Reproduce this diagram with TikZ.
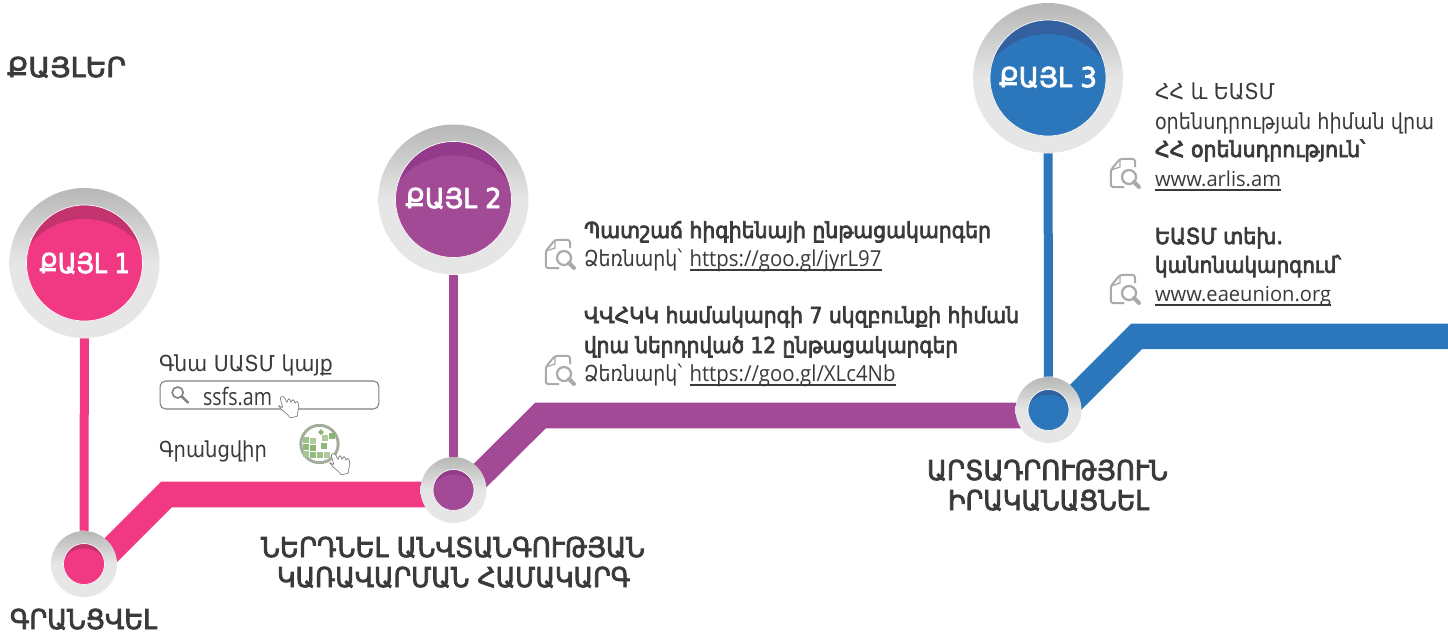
\documentclass[tikz,border=0pt]{standalone}
\usepackage{fontspec}
\usepackage{graphicx}
\setmainfont{DejaVu Sans}
\newfontfamily\latf{Open Sans}
\newfontfamily\headf[FakeBold=3]{DejaVu Sans}
\newfontfamily\semif[FakeBold=3.5]{DejaVu Sans}
\usetikzlibrary{backgrounds}
\definecolor{pinkc}{HTML}{F03883}
\definecolor{pinkd}{HTML}{C5336F}
\definecolor{purc}{HTML}{A34A97}
\definecolor{purd}{HTML}{943A8A}
\definecolor{bluec}{HTML}{2C76BB}
\definecolor{blued}{HTML}{34609F}
\definecolor{ringl}{HTML}{E5E6E5}
\definecolor{ringd}{HTML}{B7B8B6}
\definecolor{inkc}{HTML}{3A3A3C}
\definecolor{icong}{HTML}{A9AAAC}
\pgfdeclareverticalshading{ringshade}{100bp}{color(0bp)=(ringl); color(50bp)=(ringl); color(75bp)=(ringd); color(100bp)=(ringd)}
\newcommand\tw[2]{\resizebox{\dimexpr#1pt*3/4\relax}{\height}{#2}}
\newcommand\ulink[1]{\setbox0\hbox{#1}\rlap{\raisebox{-3pt}{\rule{\wd0}{1pt}}}\box0}
\newcommand\headsz{\headf\fontsize{20.5}{24}\selectfont}
\newcommand\bodysz{\fontsize{16.5}{20}\selectfont}
\newcommand\semisz{\semif\fontsize{16.5}{20}\selectfont}
\newcommand\linksz{\latf\fontsize{16.5}{20}\selectfont}
% disc: name, position, outer radius px, inner radius px, main, dark
\newcommand\stepdisc[6]{%
  \node[circle,inner sep=0pt,minimum size={2*#3*0.75pt},shade,shading=ringshade] (#1) at (#2) {};
  \begin{scope}
    \clip (#1.center) circle ({#4});
    \fill[#6] (#1.center) circle ({#4});
    \fill[#5] ([yshift={-#4*0.75pt*27/58}]#1.center) circle ({#4*71/58});
  \end{scope}
  \draw[white,line width=.5pt] (#1.center) circle ({#4});
}
\newcommand\docicon[1]{%
  \begin{scope}[shift={(#1)}]
    \draw[icong,line width=1.5pt,line join=round,rounded corners=2pt]
      (14,29.2) -- (0.8,29.2) -- (0.8,12) -- (10,0.8) -- (25,0.8) -- (25,9);
    \draw[icong,line width=1pt] (10,0.8) -- (10,9) -- (0.8,12);
    \draw[icong,line width=1.7pt] (19,19) circle (7);
    \draw[icong,line width=3pt,line cap=round] (24,24) -- (29,29);
  \end{scope}}
\newcommand\handicon[1]{%
  \begin{scope}[shift={(#1)}]
    \draw[fill=white,draw=black!55,line width=.45pt,rounded corners=.8pt]
      (0,10) -- (5,13) -- (2,3) -- (4,1) -- (7,3) -- (9,8) -- (10,4) -- (12,4) -- (13,8) -- (14,5) -- (16,5) -- (17,9) -- (18,6) -- (20,7) -- (21,13) -- (19,19) -- (20,21) -- (12,23) -- (10,20) -- (4,15) -- cycle;
  \end{scope}}
\tikzset{
  txt/.style={anchor=base west,inner sep=0pt,outer sep=0pt,text=inkc},
  whitetxt/.style={anchor=base west,inner sep=0pt,outer sep=0pt,text=white},
  band/.style={line width=19.2pt,line join=miter},
  stem/.style={line width=6.75pt},
}
\begin{document}
\begin{tikzpicture}[x=.75pt,y=-.75pt]
\useasboundingbox (0,0) rectangle (1448,633);
\stepdisc{s1}{84.5,263}{75}{58}{pinkc}{pinkd}
\stepdisc{s2}{453.5,199.5}{75}{58}{purc}{purd}
\stepdisc{s3}{1048,78}{75}{58}{bluec}{blued}
\stepdisc{n1}{84,564}{33}{20.5}{pinkc}{pinkd}
\stepdisc{n2}{453.5,490}{33}{20.5}{purc}{purd}
\stepdisc{n3}{1048.5,410}{33}{20.5}{bluec}{blued}
\coordinate (a1) at (96.5,564.5);
\coordinate (c1) at (166.5,494.5);
\coordinate (a2) at (465.5,490);
\coordinate (c2) at (540.5,415.5);
\coordinate (a3) at (1063,410);
\coordinate (c3) at (1136.7,336.3);
\coordinate (e3) at (1448,336.3);
\begin{scope}[on background layer]
  \draw[stem,pinkc] (s1) -- (n1);
  \draw[stem,purc] (s2) -- (n2);
  \draw[stem,bluec] (s3) -- (n3);
  \draw[band,pinkc] (a1) -- (c1) -- (c1 -| n2);
  \draw[band,purc] (a2) -- (c2) -- (c2 -| n3);
  \draw[band,bluec] (a3) -- (c3) -- (e3);
\end{scope}
% step labels
\node[txt] (title) at (7,77) {\tw{119}{\headsz ՔԱՅԼԵՐ}};
\node[whitetxt] (l1) at (39.5,273) {\tw{90.5}{\headsz ՔԱՅԼ 1}};
\node[whitetxt] (l2) at (405.5,208) {\tw{96}{\headsz ՔԱՅԼ 2}};
\node[whitetxt] (l3) at (999,87) {\tw{98}{\headsz ՔԱՅԼ 3}};
% milestone labels
\node[txt] (m1) at (10,629) {\tw{147}{\headsz ԳՐԱՆՑՎԵԼ}};
\node[txt] (m2a) at (261,557) {\tw{384}{\headsz ՆԵՐԴՆԵԼ ԱՆՎՏԱՆԳՈՒԹՅԱՆ}};
\node[txt] (m2b) at (277,587) {\tw{353}{\headsz ԿԱՌԱՎԱՐՄԱՆ ՀԱՄԱԿԱՐԳ}};
\node[txt] (m3a) at (927,480) {\tw{241}{\headsz ԱՐՏԱԴՐՈՒԹՅՈՒՆ}};
\node[txt] (m3b) at (948,510) {\tw{201}{\headsz ԻՐԱԿԱՆԱՑՆԵԼ}};
% step 1 details
\node[txt] (g1) at (159,371.5) {\tw{174}{\bodysz Գնա ՍԱՏՄ կայք}};
\node[draw=black!50,line width=.8pt,rounded corners=4pt,minimum width=164pt,minimum height=21pt,inner sep=0pt] (searchbox) at (269.5,395) {};
\draw[black!50,line width=1.2pt] (177.7,392.5) circle (5.5);
\draw[black!50,line width=1.9pt,line cap=round] (181.7,396.5) -- (188,402.5);
\node[txt] (ssfs) at (203,405) {\tw{69}{\latf\fontsize{18}{20}\selectfont ssfs.am}};
\handicon{278,395}
\node[txt] (g2) at (159,457) {\tw{108}{\bodysz Գրանցվիր}};
\definecolor{gring}{HTML}{A3AD9B}
\node[circle,draw=gring,line width=2.2pt,fill=white,minimum size=28pt,inner sep=0pt] (gicon) at (319.5,444) {};
\foreach \px/\py/\cc in {306/440/9FC08A,313/441/AFCB9C,325/438/AFCB9C,306/447/93B87C,313/448/8DB56F,324/446/93B87C,306/454/A7C694,313/455/93B87C,320/455/9FC08A,327/455/AFCB9C}{
  \definecolor{tmpg}{HTML}{\cc}
  \fill[tmpg] (\px-2.7,\py-2.7) rectangle (\px+2.7,\py+2.7);
}
\definecolor{tmpg}{HTML}{8DB56F}
\fill[tmpg] (318,432) -- (321,429) -- (324,432) -- (321,435) -- cycle;
\fill[tmpg] (329,433) rectangle (335,439);
\handicon{329,452}
% step 2 details
\docicon{545,239}
\docicon{545,355}
\node[txt] (d1) at (584,238) {\tw{407}{\semisz Պատշաճ հիգիենայի ընթացակարգեր}};
\node[txt] (d2) at (584,266.7) {\tw{98}{\bodysz Ձեռնարկ՝}};
\node[txt] (d3) at (689.5,266.7) {\tw{192}{\linksz\ulink{https://goo.gl/jyrL97}}};
\node[txt] (d4) at (584,323) {\tw{435}{\semisz ՎՎՀԿԿ համակարգի 7 սկզբունքի հիման}};
\node[txt] (d5) at (584,353) {\tw{374}{\semisz վրա ներդրված 12 ընթացակարգեր}};
\node[txt] (d6) at (584,381.7) {\tw{98}{\bodysz Ձեռնարկ՝}};
\node[txt] (d7) at (689.5,381.7) {\tw{206}{\linksz\ulink{https://goo.gl/XLc4Nb}}};
% step 3 details
\docicon{1110,158}
\docicon{1110,274}
\node[txt] (e1) at (1155,99) {\tw{120}{\bodysz ՀՀ և ԵԱՏՄ}};
\node[txt] (e2) at (1155,129) {\tw{279}{\bodysz օրենսդրության հիման վրա}};
\node[txt] (e4) at (1155,157) {\tw{210}{\semisz ՀՀ օրենսդրություն՝}};
\node[txt] (e5) at (1155,186.7) {\tw{126}{\latf\fontsize{15.5}{20}\selectfont\ulink{www.arlis.am}}};
\node[txt] (e6) at (1155,244) {\tw{128}{\semisz ԵԱՏՄ տեխ.}};
\node[txt] (e7) at (1155,272.7) {\tw{186}{\semisz կանոնակարգում՝}};
\node[txt] (e8) at (1155,301.7) {\tw{176}{\latf\fontsize{15.5}{20}\selectfont\ulink{www.eaeunion.org}}};
\end{tikzpicture}
\end{document}
